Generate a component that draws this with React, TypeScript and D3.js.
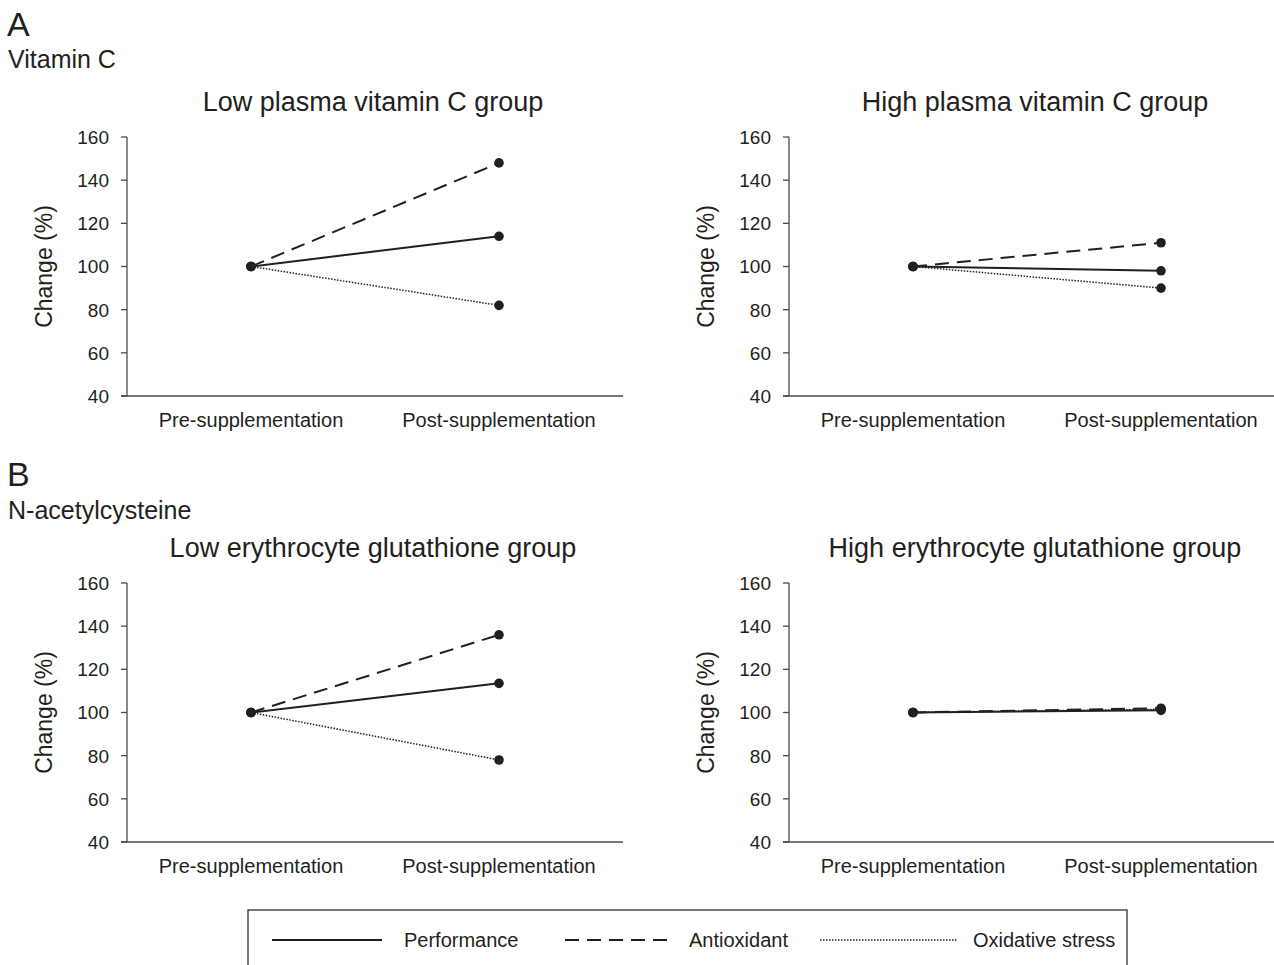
import React from 'react';
import * as d3 from 'd3';

// categories on the x axis
const phases = ['Pre-supplementation', 'Post-supplementation'];
const yTicks = [40, 60, 80, 100, 120, 140, 160];

// A: vitamin C
const lowVitCPerformance = [100, 114];
const lowVitCAntioxidant = [100, 148];
const lowVitCOxidative = [100, 82];
const highVitCPerformance = [100, 98];
const highVitCAntioxidant = [100, 111];
const highVitCOxidative = [100, 90];

// B: N-acetylcysteine
const lowGshPerformance = [100, 113.5];
const lowGshAntioxidant = [100, 136];
const lowGshOxidative = [100, 78];
const highGshPerformance = [100, 101];
const highGshAntioxidant = [100, 102];
const highGshOxidative = [100, 101.5];

const legendNames = ['Performance', 'Antioxidant', 'Oxidative stress'];

const FONT = '"Liberation Sans", Arial, Helvetica, sans-serif';
const INK = '#231f20';

const styles = {
  Performance: { width: 2, dash: null },
  Antioxidant: { width: 2, dash: '14,8' },
  'Oxidative stress': { width: 1.5, dash: '1.5,1.5' },
};

const panels = [
  { title: 'Low plasma vitamin C group', ox: 127, oy: 137,
    series: [['Oxidative stress', lowVitCOxidative], ['Antioxidant', lowVitCAntioxidant], ['Performance', lowVitCPerformance]] },
  { title: 'High plasma vitamin C group', ox: 789, oy: 137,
    series: [['Oxidative stress', highVitCOxidative], ['Antioxidant', highVitCAntioxidant], ['Performance', highVitCPerformance]] },
  { title: 'Low erythrocyte glutathione group', ox: 127, oy: 583,
    series: [['Oxidative stress', lowGshOxidative], ['Antioxidant', lowGshAntioxidant], ['Performance', lowGshPerformance]] },
  { title: 'High erythrocyte glutathione group', ox: 789, oy: 583,
    series: [['Oxidative stress', highGshOxidative], ['Antioxidant', highGshAntioxidant], ['Performance', highGshPerformance]] },
];

const w = 496, h = 259;

const x = d3.scalePoint().domain(phases).range([0, w]).padding(0.5);
const y = d3.scaleLinear().domain([40, 160]).range([h, 0]);

const line = d3.line<number>()
  .x((d, i) => x(phases[i]))
  .y(d => y(d));

const Panel = ({ p }) => {
  return (
    <g transform={'translate(' + p.ox + ',' + p.oy + ')'}>
      <text x={w / 2 - 2} y={-26} textAnchor="middle" fontSize={27}>{p.title}</text>
      <text transform={'translate(-75,' + h / 2 + ') rotate(-90)'} textAnchor="middle" fontSize={23}>Change (%)</text>
      <line x1={0} x2={0} y1={0} y2={h} stroke="#4a4a4a" strokeWidth={1.3} />
      <line x1={-6} x2={w} y1={h} y2={h} stroke="#4a4a4a" strokeWidth={1.3} />
      {yTicks.map(t => (
        <g key={t} transform={'translate(0,' + y(t) + ')'}>
          <line x1={-6} x2={0} stroke="#4a4a4a" strokeWidth={1.3} />
          <text x={-18} dy="0.36em" textAnchor="end" fontSize={19}>{t}</text>
        </g>
      ))}
      {phases.map(c => (
        <text key={c} x={x(c)} y={h + 31} textAnchor="middle" fontSize={20}>{c}</text>
      ))}
      {p.series.map(([name, vals]) => (
        <path key={name} d={line(vals)} fill="none" stroke={INK}
          strokeWidth={styles[name].width}
          strokeDasharray={styles[name].dash || undefined} />
      ))}
      {p.series.map(([name, vals]) => vals.map((v, i) => (
        <circle key={name + i} cx={x(phases[i])} cy={y(v)} r={4.8} fill={INK} />
      )))}
    </g>
  );
};

export default function App() {
  const legendX = [272, 565, 820];
  const legendLen = [110, 107, 137];
  const legendGap = [22, 17, 16];
  return (
    <svg width={1274} height={965} style={{ position: 'absolute', left: 0, top: 0, background: '#fff' }}
      fontFamily={FONT} fill={INK}>
      <rect width={1274} height={965} fill="#fff" />
      <text x={7} y={36} fontSize={34}>A</text>
      <text x={8} y={68} fontSize={25}>Vitamin C</text>
      <text x={7} y={486} fontSize={34}>B</text>
      <text x={8} y={519} fontSize={25}>N-acetylcysteine</text>
      {panels.map(p => <Panel key={p.title} p={p} />)}
      <rect x={248} y={910} width={879} height={80} fill="none" stroke={INK} strokeWidth={1.2} />
      {legendNames.map((n, i) => (
        <g key={n}>
          <line x1={legendX[i]} x2={legendX[i] + legendLen[i]} y1={940} y2={940} stroke={INK}
            strokeWidth={styles[n].width} strokeDasharray={styles[n].dash || undefined} />
          <text x={legendX[i] + legendLen[i] + legendGap[i]} y={947} fontSize={20}>{n}</text>
        </g>
      ))}
    </svg>
  );
}
